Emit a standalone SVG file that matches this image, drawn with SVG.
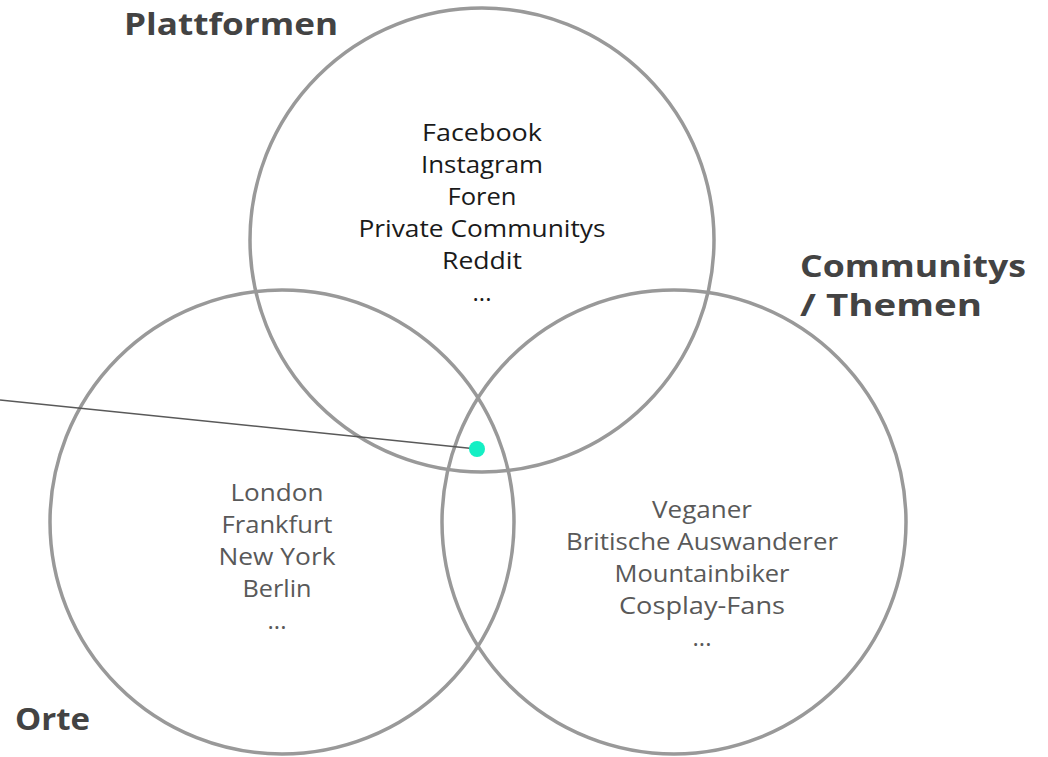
<svg xmlns="http://www.w3.org/2000/svg" width="1048" height="757" viewBox="0 0 1048 757">
<style>
.c{fill:none;stroke:#999999;stroke-width:3.5}
.t{font-family:"Open Sans","Liberation Sans",sans-serif;font-size:24px;text-anchor:middle}
.h{font-family:"Open Sans","Liberation Sans",sans-serif;font-size:31px;font-weight:bold;fill:#434343}
</style>
<rect width="1048" height="757" fill="#ffffff"/>
<g id="plattformen">
<circle class="c" cx="482" cy="240" r="232"/>
<text class="h" x="124" y="35" textLength="214" lengthAdjust="spacingAndGlyphs">Plattformen</text>
<g class="t" fill="#1a1a1a">
<text x="482" y="141" textLength="120" lengthAdjust="spacingAndGlyphs">Facebook</text>
<text x="482" y="173" textLength="122" lengthAdjust="spacingAndGlyphs">Instagram</text>
<text x="482" y="205" textLength="69" lengthAdjust="spacingAndGlyphs">Foren</text>
<text x="482" y="237" textLength="247" lengthAdjust="spacingAndGlyphs">Private Communitys</text>
<text x="482" y="269" textLength="80" lengthAdjust="spacingAndGlyphs">Reddit</text>
<text x="482" y="301">...</text>
</g>
</g>
<g id="orte">
<circle class="c" cx="282" cy="522" r="232"/>
<text class="h" x="15" y="730" textLength="75" lengthAdjust="spacingAndGlyphs">Orte</text>
<g class="t" fill="#595959">
<text x="277" y="501" textLength="93" lengthAdjust="spacingAndGlyphs">London</text>
<text x="277" y="533" textLength="111" lengthAdjust="spacingAndGlyphs">Frankfurt</text>
<text x="277" y="565" textLength="117" lengthAdjust="spacingAndGlyphs">New York</text>
<text x="277" y="597" textLength="69" lengthAdjust="spacingAndGlyphs">Berlin</text>
<text x="277" y="629">...</text>
</g>
</g>
<g id="communitys">
<circle class="c" cx="674" cy="522" r="232"/>
<text class="h" x="800" y="277" font-size="30" textLength="226" lengthAdjust="spacingAndGlyphs">Communitys</text>
<text class="h" x="800" y="316" font-size="30" textLength="182" lengthAdjust="spacingAndGlyphs">/ Themen</text>
<g class="t" fill="#595959">
<text x="702" y="518" textLength="100" lengthAdjust="spacingAndGlyphs">Veganer</text>
<text x="702" y="550" textLength="272" lengthAdjust="spacingAndGlyphs">Britische Auswanderer</text>
<text x="702" y="582" textLength="175" lengthAdjust="spacingAndGlyphs">Mountainbiker</text>
<text x="702" y="614" textLength="166" lengthAdjust="spacingAndGlyphs">Cosplay-Fans</text>
<text x="702" y="646">...</text>
</g>
</g>
<g id="connectors">
<line x1="0" y1="400" x2="477" y2="449" stroke="#595959" stroke-width="1.5"/>
<circle cx="477" cy="449" r="8" fill="#14efc4"/>
</g>
</svg>
